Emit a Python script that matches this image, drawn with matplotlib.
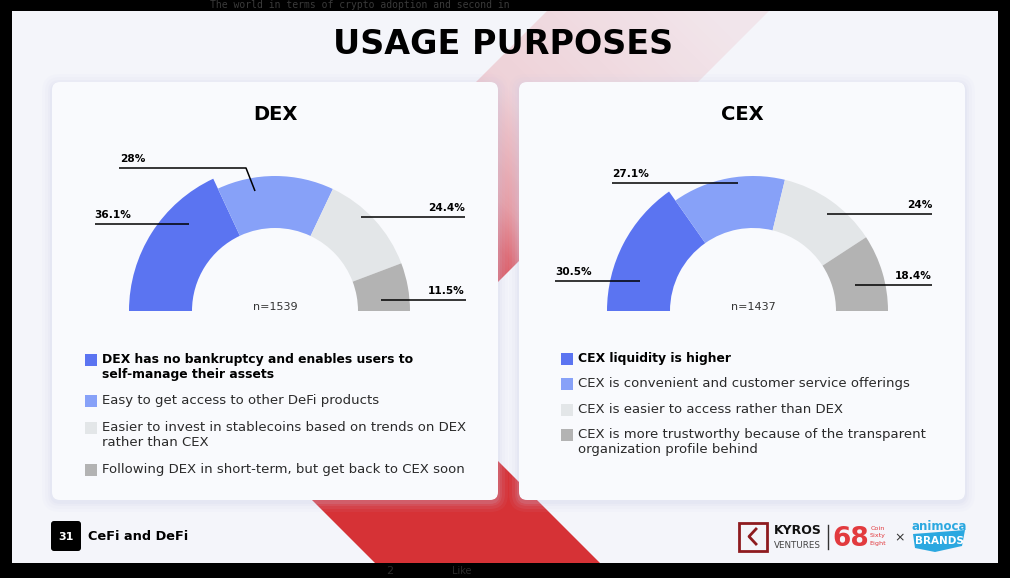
import numpy as np
import matplotlib
matplotlib.use("Agg")
import matplotlib.pyplot as plt
from matplotlib.patches import FancyBboxPatch, Rectangle, Polygon

# ---------------- data ----------------
title = "USAGE PURPOSES"
dex_title = "DEX"
cex_title = "CEX"
dex_values = [36.1, 28, 24.4, 11.5]
cex_values = [30.5, 27.1, 24, 18.4]
dex_n = 1539
cex_n = 1437
dex_labels = ["DEX has no bankruptcy and enables users to\nself-manage their assets",
              "Easy to get access to other DeFi products",
              "Easier to invest in stablecoins based on trends on DEX\nrather than CEX",
              "Following DEX in short-term, but get back to CEX soon"]
cex_labels = ["CEX liquidity is higher",
              "CEX is convenient and customer service offerings",
              "CEX is easier to access rather than DEX",
              "CEX is more trustworthy because of the transparent\norganization profile behind"]
page_number = "31"
section = "CeFi and DeFi"

# ---------------- style ----------------
seg_colors = ["#5B74F1", "#87A1F8", "#E3E6E8", "#B3B3B3"]
W, H = 1010, 578
plt.rcParams['font.family'] = ["DejaVu Sans"]

fig = plt.figure(figsize=(W / 100, H / 100), dpi=100)
fig.patch.set_facecolor("black")
bg = fig.add_axes([0, 0, 1, 1])
bg.set_xlim(0, W)
bg.set_ylim(H, 0)
bg.axis("off")

top = fig.add_axes([0, 0, 1, 1])
top.set_xlim(0, W)
top.set_ylim(H, 0)
top.axis("off")
top.patch.set_visible(False)
top.set_zorder(20)

# outer black background bits
bg.text(210, 10, "The world in terms of crypto adoption and second in", family="DejaVu Sans Mono",
        fontsize=7, color="#3a3a3a", va="bottom", ha="left")
bg.text(386, 571, "2", fontsize=8, color="#2c2c2c", va="center")
bg.text(452, 571, "Like", fontsize=7, color="#2c2c2c", va="center")

# slide
SX0, SY0, SX1, SY1 = 12, 11, 998, 563
bg.add_patch(Rectangle((SX0, SY0), SX1 - SX0, SY1 - SY0, facecolor="#F4F5FA", edgecolor="none", zorder=1))

# top diagonal band with gradient (faint at top-right, strong toward lower-left)
yy, xx = np.mgrid[0:H, 0:W]
s = yy - xx
alpha = np.interp(s, [-700, -420, -300, -250, -150], [0.08, 0.18, 0.45, 0.7, 1.0])
img = np.zeros((H, W, 4))
img[..., 0] = 214 / 255
img[..., 1] = 48 / 255
img[..., 2] = 60 / 255
img[..., 3] = alpha
band1 = Polygon([(558 - SY0, SY0), (780 - SY0, SY0), (780 - 490, 490), (558 - 490, 490)],
                closed=True, transform=bg.transData, facecolor="none", edgecolor="none")
bg.add_patch(band1)
im = bg.imshow(img, extent=(0, W, H, 0), zorder=2, interpolation="bilinear")
im.set_clip_path(band1)
bg.set_xlim(0, W)
bg.set_ylim(H, 0)

# bottom solid band
bg.add_patch(Polygon([(300 - 188, 300), (300 + 37, 300), (SY1 + 37, SY1), (SY1 - 188, SY1)],
                     closed=True, facecolor="#D63236", edgecolor="none", zorder=2))

# title
top.text(503, 44, title, fontsize=24, fontweight="heavy", color="black", ha="center", va="center")

# cards
cards = [(52, 82, 498, 500), (519, 82, 965, 500)]
for (x0, y0, x1, y1) in cards:
    for k, a in zip([10, 7, 4, 2], [0.05, 0.07, 0.09, 0.12]):
        bg.add_patch(FancyBboxPatch((x0 - k, y0 - k + 2), (x1 - x0) + 2 * k, (y1 - y0) + 2 * k,
                                    boxstyle=f"round,pad=0,rounding_size={8 + k}",
                                    facecolor="#C9CDEA", edgecolor="none", alpha=a, zorder=3))
    bg.add_patch(FancyBboxPatch((x0, y0), x1 - x0, y1 - y0, boxstyle="round,pad=0,rounding_size=8",
                                facecolor="#F9FAFD", edgecolor="none", zorder=4))


def draw_chart(cx, cy, values, ttl, tx, n, label_layout, legend_labels, lx, ly_list):
    R = 160
    ax = fig.add_axes([(cx - R) / W, 1 - (cy + R) / H, 2 * R / W, 2 * R / H])
    r_out, r_in, r_hi = 135, 83, 146
    wedges, _ = ax.pie(values + [sum(values)], colors=seg_colors + ["none"], startangle=180,
                       counterclock=False, radius=r_out,
                       wedgeprops=dict(width=r_out - r_in, edgecolor="none", linewidth=0))
    wedges[-1].set_visible(False)
    wedges[0].set_radius(r_hi)
    wedges[0].set_width(r_hi - r_in)
    ax.set_xlim(-R, R)
    ax.set_ylim(-R, R)
    ax.set_aspect("equal")
    ax.axis("off")
    ax.set_zorder(5)

    top.text(tx, 115, ttl, fontsize=14, fontweight="bold", ha="center", va="center")
    top.text(cx, 307, f"n={n}", fontsize=8, color="#333333", ha="center", va="center")

    for v, (txt_x, ha, line_y, x_a, x_b, elbow) in zip(values, label_layout):
        top.text(txt_x, line_y - 9, f"{v:g}%", fontsize=7.6, fontweight="bold", ha=ha, va="center",
                 color="black")
        xs = [x_a, x_b]
        ys = [line_y, line_y]
        if elbow is not None:
            xs.append(elbow[0])
            ys.append(elbow[1])
        top.plot(xs, ys, color="black", lw=1.1, solid_capstyle="butt")

    for i, (lab, ly) in enumerate(zip(legend_labels, ly_list)):
        top.add_patch(Rectangle((lx, ly - 6), 12, 12, facecolor=seg_colors[i], edgecolor="none"))
        top.text(lx + 17, ly - 7, lab, fontsize=8.9 if i == 0 else 9.5,
                 fontweight="bold" if i == 0 else "normal",
                 color="black" if i == 0 else "#2a2a2a", ha="left", va="top", linespacing=1.22)


dex_layout = [(94, "left", 224, 95, 189, None),
              (120, "left", 168, 119, 246, (255, 191)),
              (465, "right", 217, 361, 465, None),
              (465, "right", 300, 381, 466, None)]
cex_layout = [(555, "left", 281, 555, 640, None),
              (612, "left", 183, 612, 738, None),
              (932, "right", 214, 827, 932, None),
              (932, "right", 285, 855, 932, None)]

draw_chart(275, 311, dex_values, dex_title, 275, dex_n, dex_layout, dex_labels, 85, [360, 401, 428, 470])
draw_chart(753, 311, cex_values, cex_title, 742, cex_n, cex_layout, cex_labels, 561, [359, 384, 410, 435])

# footer
top.add_patch(FancyBboxPatch((51, 521), 30, 30, boxstyle="round,pad=0,rounding_size=3",
                             facecolor="black", edgecolor="none"))
top.text(66, 536.5, page_number, color="white", fontsize=8, fontweight="bold", ha="center", va="center")
top.text(88, 536, section, color="black", fontsize=9.3, fontweight="semibold", ha="left", va="center")

# logos
top.add_patch(Rectangle((738.5, 522.5), 28, 28, facecolor="none", edgecolor="#8E1B1F", lw=2))
top.plot([756, 749, 756], [529, 536.5, 544], color="#8E1B1F", lw=2)
top.text(774, 531, "KYROS", fontsize=9, fontweight="bold", color="#111111", ha="left", va="center")
top.text(774, 545, "VENTURES", fontsize=6.3, color="#444444", ha="left", va="center")
top.plot([828, 828], [525, 549], color="#333333", lw=1)
top.text(851, 539, "68", fontsize=19, fontweight="heavy", color="#E23A3E", ha="center", va="center")
for j, w in enumerate(["Coin", "Sixty", "Eight"]):
    top.text(878, 528 + 8 * j, w, fontsize=4.6, color="#E23A3E", ha="center", va="center")
top.text(900, 538, "×", fontsize=9, color="#333333", ha="center", va="center")
top.text(939, 526, "animoca", fontsize=8.5, fontweight="bold", color="#2BA8E0", ha="center", va="center")
top.add_patch(Polygon([(913, 534), (965, 530), (962, 546), (935, 552), (915, 548)], closed=True,
                      facecolor="#2BA8E0", edgecolor="none"))
top.text(939, 541, "BRANDS", fontsize=7.5, fontweight="bold", color="white", ha="center", va="center")

fig.savefig("out.png", dpi=100, facecolor="black")
